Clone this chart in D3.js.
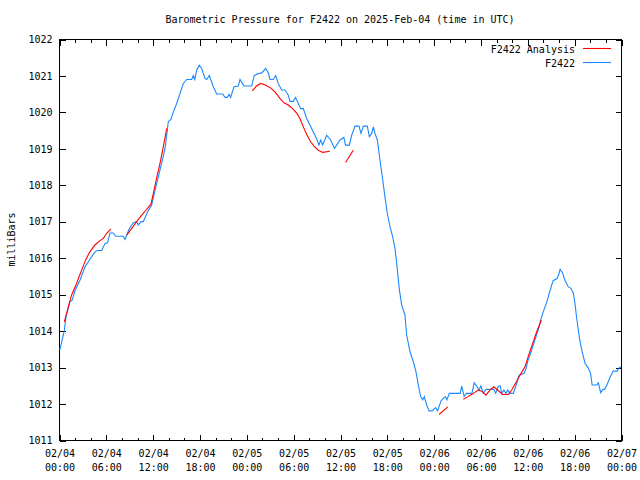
<!DOCTYPE html>
<html><head><meta charset="utf-8">
<script src="https://cdn.jsdelivr.net/npm/d3@7"></script>
<style>
body{margin:0;background:#fff;}
text{font-family:"DejaVu Sans Mono",monospace;font-size:10px;fill:#000;}
</style></head>
<body><svg id="c" width="640" height="480"></svg>
<script>
const titleText = "Barometric Pressure for F2422 on 2025-Feb-04 (time in UTC)";
const yLabel = "milliBars";
const seriesNames = ["F2422 Analysis", "F2422"];
const startTime = "2025-02-04T00:00:00Z";
const endTime = "2025-02-07T00:00:00Z";
const yTicks = [1011,1012,1013,1014,1015,1016,1017,1018,1019,1020,1021,1022];

// F2422 observed: hours since 02/04 00:00 UTC, pressure mb
const obsHours = [0.1,0.4,0.68,0.9,1.4,1.7,2.05,2.7,3.33,3.76,4.4,4.83,5.47,5.9,6.23,6.53,6.96,7.26,8.24,8.45,8.97,9.52,9.95,10.16,10.5,10.8,11.44,11.87,12.3,12.72,13.15,13.58,13.8,14.0,14.35,14.65,15.08,15.5,15.93,16.36,17.0,17.2,17.4,17.64,17.97,18.28,18.7,18.92,19.26,19.56,19.77,20.2,20.97,21.27,21.56,21.78,21.99,22.42,22.97,23.19,23.7,24.68,25.02,25.53,25.97,26.48,26.82,27.03,27.45,27.76,28.09,28.53,28.95,29.38,29.59,30.0,30.3,30.66,30.96,31.3,31.73,32.15,32.58,33.0,33.3,33.52,33.78,34.3,34.8,35.3,36.0,36.5,36.7,37.2,37.5,37.92,38.43,38.69,38.99,39.5,39.76,40.06,40.27,40.48,40.78,41.12,41.42,41.76,42.06,42.4,42.75,43.04,43.26,43.6,43.9,44.32,44.54,44.97,45.39,45.74,46.03,46.34,46.59,46.8,47.1,47.4,47.8,48.25,48.5,48.94,49.24,49.5,49.7,50.0,51.4,51.6,51.9,52.2,52.9,53.2,53.5,53.8,54.05,54.36,54.7,55.7,55.95,56.3,56.55,56.7,57.0,57.25,57.5,57.8,58.2,58.5,58.97,59.6,59.8,60.1,60.55,60.97,61.4,61.7,62.05,62.5,62.8,63.3,63.8,64.0,64.2,64.5,64.8,65.25,65.6,65.9,66.1,66.3,66.65,66.96,67.4,67.8,68.1,68.3,68.9,69.1,69.4,69.7,69.9,70.2,70.6,71.0,71.5,71.8,72.0];
const obsValues = [1013.47,1013.74,1014.0,1014.38,1014.79,1014.84,1015.1,1015.39,1015.75,1015.89,1016.1,1016.2,1016.2,1016.39,1016.41,1016.68,1016.68,1016.59,1016.59,1016.5,1016.78,1016.96,1016.99,1016.9,1016.99,1016.99,1017.3,1017.44,1017.85,1018.22,1018.59,1018.99,1019.36,1019.73,1019.8,1020.0,1020.23,1020.5,1020.78,1020.89,1020.89,1021.0,1020.89,1021.15,1021.28,1021.19,1020.92,1020.89,1021.0,1020.82,1020.69,1020.49,1020.49,1020.4,1020.4,1020.48,1020.4,1020.69,1020.71,1020.89,1020.71,1020.71,1021.0,1021.05,1021.07,1021.19,1021.07,1020.89,1020.89,1021.0,1020.78,1020.6,1020.6,1020.46,1020.29,1020.29,1020.4,1020.23,1020.09,1020.09,1019.82,1019.64,1019.45,1019.27,1019.09,1019.23,1019.09,1019.36,1019.23,1019.0,1019.23,1019.3,1019.09,1019.09,1019.36,1019.61,1019.61,1019.41,1019.61,1019.61,1019.32,1019.41,1019.59,1019.41,1019.23,1018.68,1018.22,1017.67,1017.22,1016.85,1016.57,1016.26,1015.85,1015.13,1014.7,1014.43,1013.88,1013.42,1013.15,1012.87,1012.51,1012.19,1012.1,1012.19,1011.96,1011.8,1011.8,1011.89,1011.8,1012.07,1012.14,1012.19,1012.1,1012.28,1012.28,1012.48,1012.2,1012.28,1012.28,1012.57,1012.48,1012.37,1012.48,1012.28,1012.39,1012.39,1012.28,1012.48,1012.48,1012.28,1012.37,1012.28,1012.37,1012.28,1012.28,1012.46,1012.78,1012.83,1012.94,1013.19,1013.47,1013.74,1014.02,1014.29,1014.52,1014.79,1015.02,1015.37,1015.43,1015.52,1015.68,1015.59,1015.39,1015.2,1015.16,1015.02,1014.75,1014.38,1013.83,1013.47,1013.1,1012.98,1012.83,1012.51,1012.51,1012.57,1012.3,1012.39,1012.39,1012.51,1012.72,1012.89,1012.89,1012.99,1013.0];

// F2422 Analysis: null values separate segments
const anaHours = [0.68,1.2,1.62,2.26,2.9,3.42,3.89,4.6,5.25,5.68,6.1,6.66,7.5,
  8.67,9.3,9.95,10.6,11.23,11.78,12.08,12.5,12.94,13.36,13.8,20.0,
  24.77,25.3,25.84,26.5,27.1,27.67,28.3,28.82,29.38,29.93,30.45,30.87,31.3,31.73,32.24,32.67,33.22,33.78,34.7,35.5,
  36.72,37.7,43.0,
  48.7,49.8,50.8,
  51.8,52.4,53.1,53.7,54.15,54.7,55.2,55.7,56.3,56.84,57.56,58.0,58.6,59.06,59.7,60.1,60.68,61.2,61.8];
const anaValues = [1014.24,1014.66,1014.98,1015.3,1015.66,1015.94,1016.14,1016.35,1016.47,1016.53,1016.67,1016.79,null,
  1016.62,1016.8,1016.99,1017.17,1017.33,1017.47,1017.76,1018.18,1018.59,1019.04,1019.55,null,
  1020.58,1020.71,1020.78,1020.73,1020.66,1020.55,1020.37,1020.25,1020.19,1020.09,1019.97,1019.82,1019.59,1019.38,1019.18,1019.06,1018.95,1018.89,1018.92,null,
  1018.61,1018.95,null,
  1011.7,1011.91,null,
  1012.12,1012.19,1012.28,1012.37,1012.34,1012.23,1012.37,1012.46,1012.35,1012.25,1012.25,1012.37,1012.6,1012.78,1013.01,1013.28,1013.65,1013.97,1014.29];

const svg = d3.select("#c");
const L = 59, R = 621, T = 39, B = 440;
const t0 = new Date(startTime);
const toDate = h => new Date(t0.getTime() + h * 3600e3);
const x = d3.scaleUtc().domain([new Date(startTime), new Date(endTime)]).range([L, R]);
const y = d3.scaleLinear().domain([1011, 1022]).range([B, T]);

// frame
svg.append("rect").attr("x", L + 0.5).attr("y", T + 0.5).attr("width", R - L).attr("height", B - T)
  .attr("fill", "none").attr("stroke", "#000").attr("shape-rendering", "crispEdges");

const major = d3.utcHour.every(6), minor = d3.utcHour.every(2);
function styleAxis(g){ g.select(".domain").remove(); g.selectAll("line").attr("stroke","#000").attr("shape-rendering","crispEdges"); g.selectAll("text").attr("fill","#000").style("font-family","DejaVu Sans Mono, monospace").style("font-size","10px"); }

// minor x ticks bottom/top
svg.append("g").attr("transform", `translate(0.5,${B + 0.5})`)
  .call(d3.axisBottom(x).ticks(minor).tickSize(-3).tickFormat("")).call(styleAxis);
svg.append("g").attr("transform", `translate(0.5,${T + 0.5})`)
  .call(d3.axisTop(x).ticks(minor).tickSize(-3).tickFormat("")).call(styleAxis);
// major x ticks
const fmtD = d3.utcFormat("%m/%d"), fmtT = d3.utcFormat("%H:%M");
const xb = svg.append("g").attr("transform", `translate(0.5,${B + 0.5})`)
  .call(d3.axisBottom(x).ticks(major).tickSize(-6).tickPadding(9).tickFormat(fmtD)).call(styleAxis);
xb.selectAll(".tick text").each(function(d){
  const t = d3.select(this); t.text(null);
  t.append("tspan").attr("x", 0).attr("dy", "0.71em").text(fmtD(d));
  t.append("tspan").attr("x", 0).attr("dy", "14").text(fmtT(d));
});
svg.append("g").attr("transform", `translate(0.5,${T + 0.5})`)
  .call(d3.axisTop(x).ticks(major).tickSize(-6).tickFormat("")).call(styleAxis);

// y axes
svg.append("g").attr("transform", `translate(${L + 0.5},0.5)`)
  .call(d3.axisLeft(y).tickValues(yTicks).tickSize(-6).tickPadding(7).tickFormat(d3.format("d"))).call(styleAxis);
svg.append("g").attr("transform", `translate(${R + 0.5},0.5)`)
  .call(d3.axisRight(y).tickValues(yTicks).tickSize(-6).tickFormat("")).call(styleAxis);

// title & label
svg.append("text").attr("x", (L + R) / 2).attr("y", 23).attr("text-anchor", "middle").text(titleText);
svg.append("text").attr("transform", `translate(15,${(T + B) / 2}) rotate(-90)`).attr("text-anchor", "middle").text(yLabel);

// data
const obs = obsHours.map((h, i) => ({t: toDate(h), v: obsValues[i]}));
const ana = anaHours.map((h, i) => ({t: toDate(h), v: anaValues[i]}));
const line = d3.line().defined(d => d.v !== null).x(d => x(d.t)).y(d => y(d.v));

svg.append("path").datum(obs).attr("d", line).attr("fill", "none").attr("stroke", "#1a88ff").attr("stroke-width", 1.1);
svg.append("path").datum(ana).attr("d", line).attr("fill", "none").attr("stroke", "#ff0000").attr("stroke-width", 1.1);

// legend
const colors = ["#ff0000", "#1a88ff"];
seriesNames.forEach((n, i) => {
  const yy = 53 + i * 14;
  svg.append("text").attr("x", 575).attr("y", yy).attr("text-anchor", "end").text(n);
  svg.append("line").attr("x1", 583).attr("x2", 611).attr("y1", yy - 4.5).attr("y2", yy - 4.5)
    .attr("stroke", colors[i]).attr("stroke-width", 1.1);
});
</script></body></html>
